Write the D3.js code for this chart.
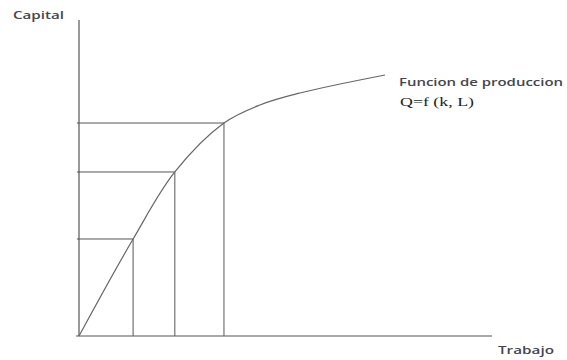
<!DOCTYPE html>
<html>
<head>
<meta charset="utf-8">
<script src="https://cdn.jsdelivr.net/npm/d3@7"></script>
<style>
  body { margin: 0; background: #fff; }
  svg { display: block; }
  .lbl { font-family: "Open Sans", sans-serif; font-weight: 600; fill: #45454d; }
  .formula { font-family: "Liberation Serif", serif; fill: #222; }
</style>
</head>
<body>
<div id="chart"></div>
<script>
// funcion de produccion (trabajo, capital), unidades relativas 0-100
var laborPts = [0, 13.1, 23.2, 35.1, 43.8, 53.5, 74.1];
var capitalPts = [0, 30.7, 51.9, 67.4, 73.1, 76.9, 82.6];

// puntos marcados sobre la curva
var markL = [13.1, 23.2, 35.1];
var markK = [30.7, 51.9, 67.4];

var WIDTH = 567, HEIGHT = 360;

var svg = d3.select('#chart').append('svg')
    .attr('width', WIDTH)
    .attr('height', HEIGHT);

var x = d3.scaleLinear().domain([0, 100]).range([79, 492]);
var y = d3.scaleLinear().domain([0, 100]).range([336, 20]);

var stroke = '#555';

// ejes
svg.append('line')
    .attr('x1', x(0)).attr('x2', x(0))
    .attr('y1', y(0)).attr('y2', y(100))
    .attr('stroke', stroke).attr('stroke-width', 1.2);
svg.append('line')
    .attr('x1', x(-0.7)).attr('x2', x(100))
    .attr('y1', y(0)).attr('y2', y(0))
    .attr('stroke', stroke).attr('stroke-width', 1.2);

// lineas guia
var marks = markL.map((d, i) => ({ L: d, K: markK[i] }));
svg.selectAll('line.h')
    .data(marks)
    .enter()
    .append('line')
    .attr('class', 'h')
    .attr('x1', x(-0.5)).attr('x2', d => x(d.L))
    .attr('y1', d => y(d.K)).attr('y2', d => y(d.K))
    .attr('stroke', stroke).attr('stroke-width', 1);
svg.selectAll('line.v')
    .data(marks)
    .enter()
    .append('line')
    .attr('class', 'v')
    .attr('x1', d => x(d.L)).attr('x2', d => x(d.L))
    .attr('y1', d => y(d.K)).attr('y2', y(0))
    .attr('stroke', '#666').attr('stroke-width', 1.1);

// curva
var curve = laborPts.map((d, i) => [d, capitalPts[i]]);
var line = d3.line()
    .x(d => x(d[0]))
    .y(d => y(d[1]))
    .curve(d3.curveCatmullRom.alpha(0.5));
svg.append('path')
    .attr('d', line(curve))
    .attr('fill', 'none')
    .attr('stroke', '#666')
    .attr('stroke-width', 1.2);

// textos
svg.append('text').attr('class', 'lbl')
    .attr('x', 13).attr('y', 19)
    .attr('font-size', 10)
    .attr('textLength', 51).attr('lengthAdjust', 'spacingAndGlyphs')
    .text('Capital');
svg.append('text').attr('class', 'lbl')
    .attr('x', 399).attr('y', 86)
    .attr('font-size', 10)
    .attr('textLength', 164).attr('lengthAdjust', 'spacingAndGlyphs')
    .text('Funcion de produccion');
svg.append('text').attr('class', 'formula')
    .attr('x', 400).attr('y', 106)
    .attr('font-size', 12)
    .attr('textLength', 74).attr('lengthAdjust', 'spacingAndGlyphs')
    .text('Q=f (k, L)');
svg.append('text').attr('class', 'lbl')
    .attr('x', 498).attr('y', 354)
    .attr('font-size', 10)
    .attr('textLength', 56).attr('lengthAdjust', 'spacingAndGlyphs')
    .text('Trabajo');
</script>
</body>
</html>
